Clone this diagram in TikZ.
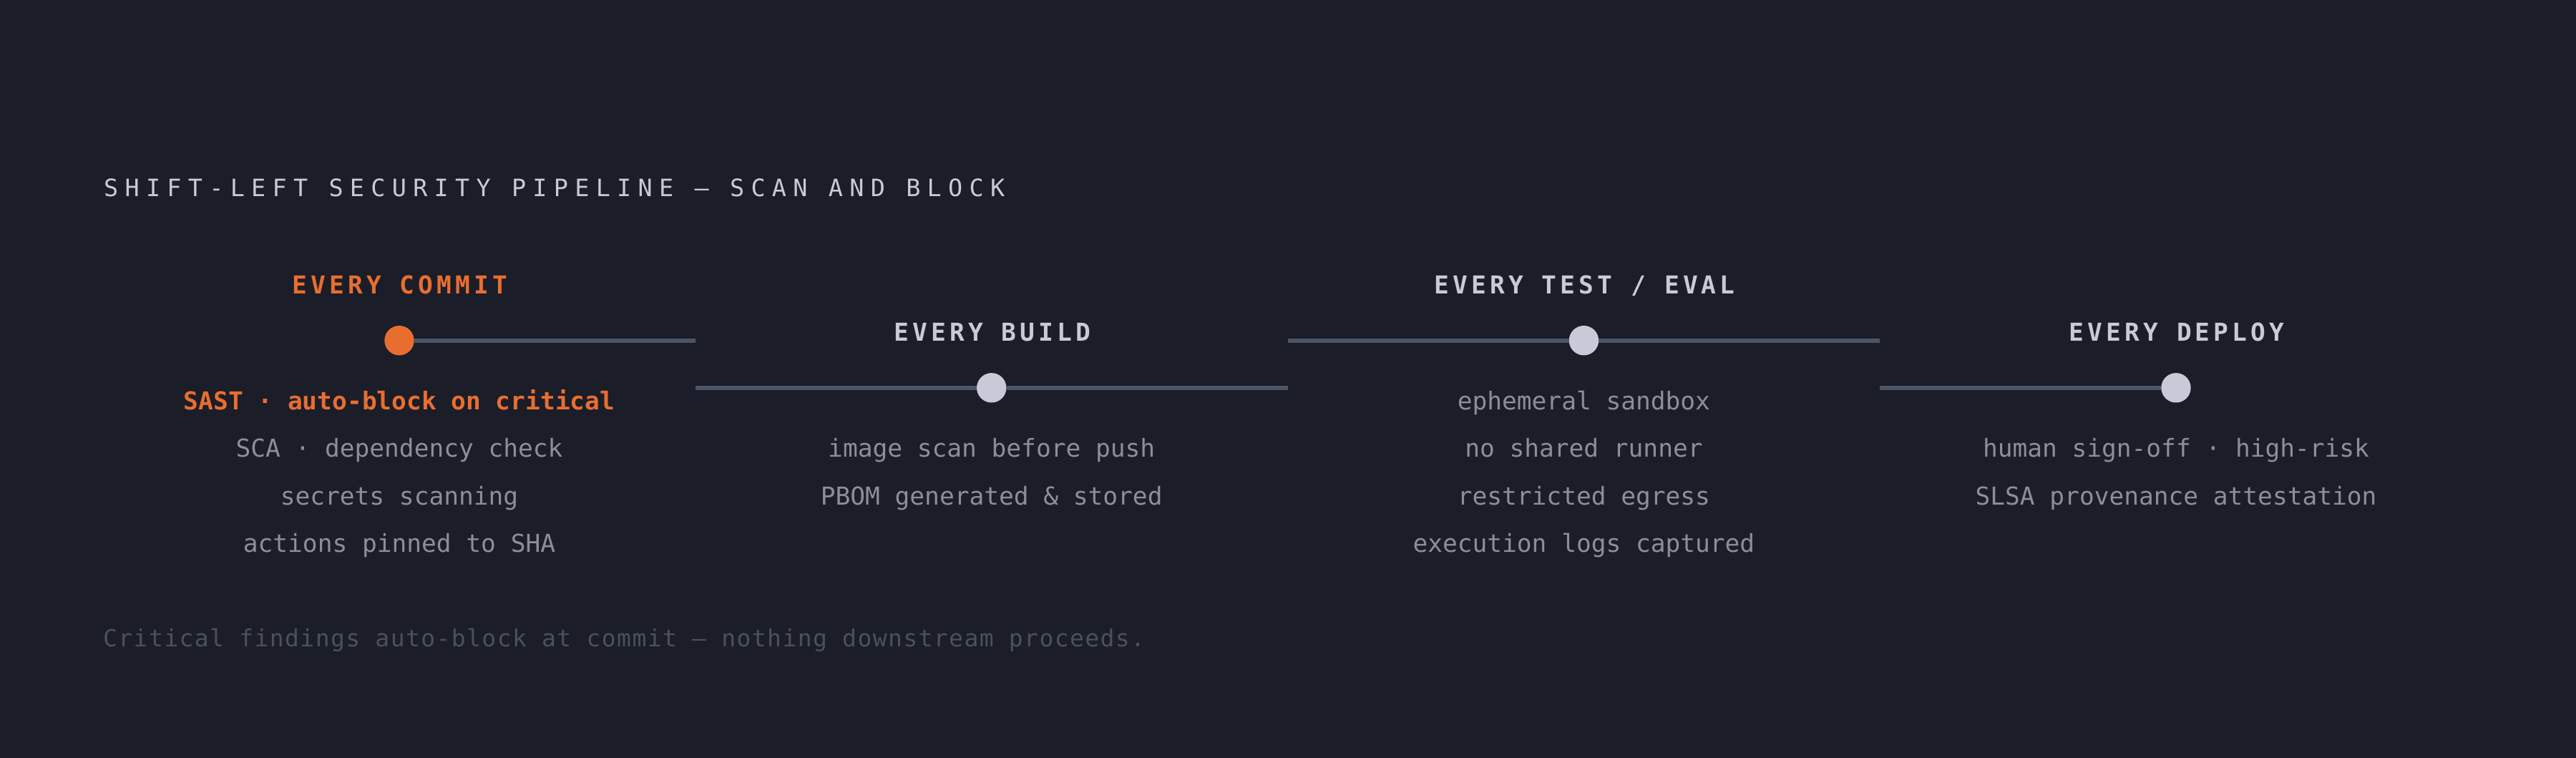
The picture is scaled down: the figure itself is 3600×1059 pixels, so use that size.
\documentclass[tikz,border=0pt]{standalone}
\usepackage{fontspec}
\setmonofont{DejaVu Sans Mono}
\newfontfamily\titlefont[LetterSpace=27.9]{DejaVu Sans Mono}
\newfontfamily\headfont[LetterSpace=15]{DejaVu Sans Mono}
\newfontfamily\itemfont{DejaVu Sans Mono}
\newfontfamily\footfont[LetterSpace=4.3]{DejaVu Sans Mono}
\definecolor{bgc}{HTML}{1B1D28}
\definecolor{accent}{HTML}{E86E30}
\definecolor{lightc}{HTML}{C8CBD7}
\definecolor{itemc}{HTML}{8B8E9B}
\definecolor{trackc}{HTML}{4A5568}
\definecolor{footc}{HTML}{4A5060}
\tikzset{
  dotnode/.style={circle,inner sep=0pt,minimum size=41.4pt,fill=#1,draw=none},
  track/.style={draw=trackc,line width=6.3pt,line cap=butt},
  titletext/.style={anchor=base west,inner sep=0pt,text=lightc,font=\titlefont\fontsize{33.4}{40}\selectfont},
  headtext/.style={anchor=base,inner sep=0pt,text=#1,font=\headfont\bfseries\fontsize{34.5}{40}\selectfont},
  itemtext/.style={anchor=base,inner sep=0pt,text=itemc,font=\itemfont\fontsize{34.5}{40}\selectfont},
  hottext/.style={anchor=base,inner sep=0pt,text=accent,font=\itemfont\bfseries\fontsize{34.5}{40}\selectfont},
  foottext/.style={anchor=base west,inner sep=0pt,text=footc,font=\footfont\fontsize{33}{40}\selectfont}
}
\begin{document}
\begin{tikzpicture}[x=1pt,y=-1pt]
\fill[bgc] (0,0) rectangle (3600,1059);
\useasboundingbox (0,0) rectangle (3600,1059);
% title
\node[titletext] (title) at (145,275) {SHIFT-LEFT SECURITY PIPELINE — SCAN AND BLOCK};
% stage dots
\node[dotnode=accent] (n1) at (558,475.7) {};
\node[dotnode=lightc] (n2) at (1385.7,541.8) {};
\node[dotnode=lightc] (n3) at (2213.4,475.7) {};
\node[dotnode=lightc] (n4) at (3041,541.8) {};
% track ends
\coordinate (e1) at (971.8,475.7);
\coordinate (s2) at (971.8,541.8);
\coordinate (e2) at (1799.5,541.8);
\coordinate (s3) at (1799.5,475.7);
\coordinate (e3) at (2627.2,475.7);
\coordinate (s4) at (2627.2,541.8);
\draw[track] (n1) -- (e1);
\draw[track] (s2) -- (n2);
\draw[track] (n2) -- (e2);
\draw[track] (s3) -- (n3);
\draw[track] (n3) -- (e3);
\draw[track] (s4) -- (n4);
% headers
\node[headtext=accent] (h1) at (559,410) {EVERY COMMIT};
\node[headtext=lightc] (h2) at (1387,476) {EVERY BUILD};
\node[headtext=lightc] (h3) at (2214.5,410) {EVERY TEST / EVAL};
\node[headtext=lightc] (h4) at (3042,476) {EVERY DEPLOY};
% stage 1 items
\node[hottext] (a1) at (558,572.3) {SAST · auto-block on critical};
\node[itemtext] (a2) at (558,638.8) {SCA · dependency check};
\node[itemtext] (a3) at (558,705.3) {secrets scanning};
\node[itemtext] (a4) at (558,771.8) {actions pinned to SHA};
% stage 2 items
\node[itemtext] (b1) at (1385.7,638.8) {image scan before push};
\node[itemtext] (b2) at (1385.7,705.3) {PBOM generated \& stored};
% stage 3 items
\node[itemtext] (c1) at (2213.4,572.3) {ephemeral sandbox};
\node[itemtext] (c2) at (2213.4,638.8) {no shared runner};
\node[itemtext] (c3) at (2213.4,705.3) {restricted egress};
\node[itemtext] (c4) at (2213.4,771.8) {execution logs captured};
% stage 4 items
\node[itemtext] (d1) at (3041,638.8) {human sign-off · high-risk};
\node[itemtext] (d2) at (3041,705.3) {SLSA provenance attestation};
% footer
\node[foottext] (foot) at (144,903) {Critical findings auto-block at commit — nothing downstream proceeds.};
\end{tikzpicture}
\end{document}
